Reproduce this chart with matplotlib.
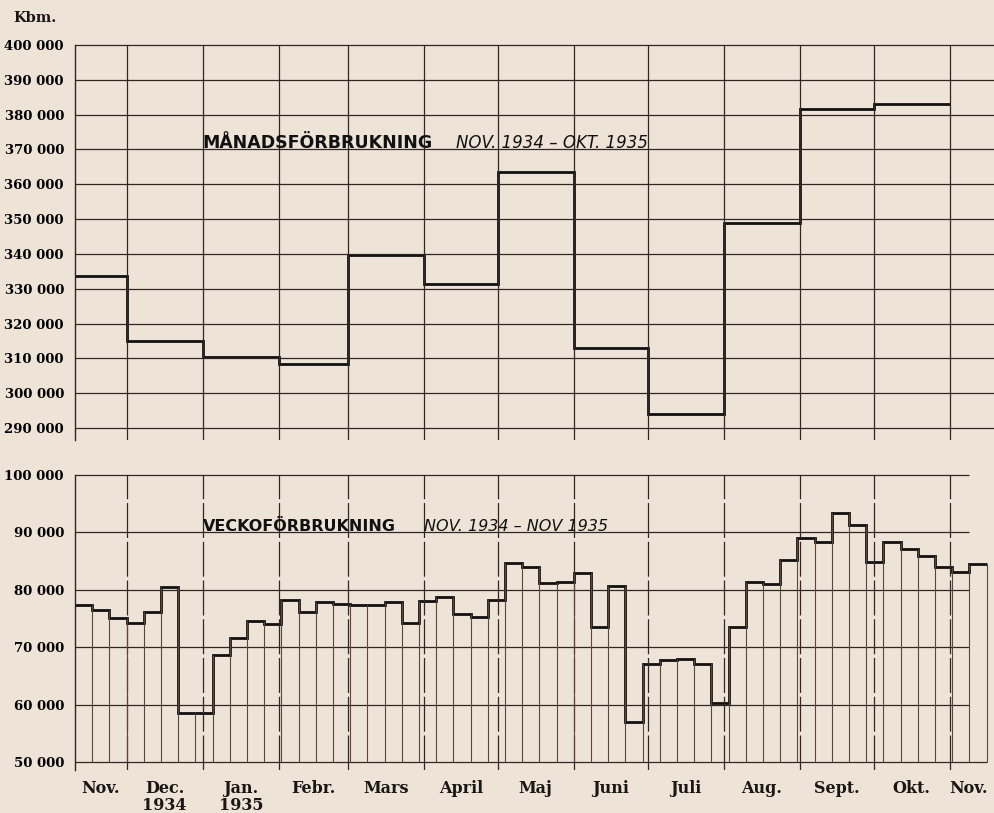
import matplotlib.pyplot as plt
import numpy as np

plt.rcParams.update({
    "font.family": "DejaVu Serif",
    "font.weight": "bold",
    "font.size": 9.5,
})

PAPER = "#ede3d7"
GRID = "#2e2724"
INK = "#111111"
DIVIDER = "#5e4636"

# first week of the series; x axis is days from here
START = np.datetime64("1934-11-10")

# month boundaries (Dec 1934 .. Nov 1935)
month_firsts = [
    "1934-12-01", "1935-01-01", "1935-02-01", "1935-03-01", "1935-04-01",
    "1935-05-01", "1935-06-01", "1935-07-01", "1935-08-01", "1935-09-01",
    "1935-10-01", "1935-11-01",
]

# monthly consumption, Nov 1934 - Okt 1935 (Kbm.)
monthly_values = [
    333600, 315100, 310300, 308500, 339700, 331300,
    363500, 313000, 294000, 349000, 381500, 383000,
]

# weekly consumption, Nov 1934 - Nov 1935 (Kbm.)
weekly_values = [
    77400, 76500, 75100, 74300, 76100, 80400, 58500, 58500, 68700, 71600,
    74500, 74100, 78300, 76200, 77900, 77600, 77400, 77300, 77900, 74200,
    78000, 78800, 75800, 75200, 78200, 84600, 83900, 81200, 81300, 83000,
    73500, 80600, 57000, 67000, 67800, 68000, 67000, 60200, 73600, 81300,
    81000, 85200, 89100, 88400, 93300, 91300, 84800, 88400, 87100, 85800,
    83900, 83100, 84500,
]

month_labels = [
    "Nov.", "Dec.\n1934", "Jan.\n1935", "Febr.", "Mars", "April", "Maj",
    "Juni", "Juli", "Aug.", "Sept.", "Okt.", "Nov.",
]

top_ticks = list(range(290000, 400001, 10000))
bottom_ticks = list(range(50000, 100001, 10000))


def days(d):
    return (np.asarray(d, dtype="datetime64[D]") - START).astype(float)


def fmt(v):
    return f"{v:,}".replace(",", " ")


month_x = days(month_firsts)
week_edges = 7.0 * np.arange(len(weekly_values) + 1)
month_edges = np.concatenate([[0.0], month_x])
label_edges = np.concatenate([[0.0], month_x, [week_edges[-1]]])
label_x = (label_edges[:-1] + label_edges[1:]) / 2
XMAX = 374.0

W, H = 994, 813
fig = plt.figure(figsize=(W / 100, H / 100), dpi=100, facecolor=PAPER)
ax1 = fig.add_axes([75 / W, 1 - 440 / H, (W - 75) / W, (440 - 45) / H])
ax2 = fig.add_axes([75 / W, 1 - 770 / H, (W - 75) / W, (770 - 475) / H])

for ax in (ax1, ax2):
    ax.set_facecolor(PAPER)
    for side in ("top", "right", "bottom"):
        ax.spines[side].set_visible(False)
    ax.spines["left"].set_color(GRID)
    ax.spines["left"].set_linewidth(1.0)
    ax.tick_params(axis="y", length=0, pad=8, labelsize=9.5)
    ax.tick_params(axis="x", length=0)
    ax.set_xticks([])
    ax.set_xlim(0, XMAX)

# ---- monthly panel
ax1.set_ylim(286550, 400000)
ax1.set_yticks(top_ticks)
ax1.set_yticklabels([fmt(v) for v in top_ticks])
ax1.hlines(top_ticks, 0, XMAX, color=GRID, lw=0.9, clip_on=False)
ax1.vlines(month_x, 286550, 400000, color=GRID, lw=0.9)
ax1.stairs(monthly_values, month_edges, baseline=None, color=INK, lw=2.0)
ax1.text(month_x[1], 370300, "MÅNADSFÖRBRUKNING", family="DejaVu Sans",
         weight="bold", fontsize=12.5, ha="left", va="baseline", color=INK)
ax1.text(month_x[7], 370300, "NOV. 1934 – OKT. 1935", family="DejaVu Sans",
         style="italic", weight="normal", fontsize=12, ha="right",
         va="baseline", color=INK)

# ---- weekly panel
ax2.set_ylim(48600, 100000)
ax2.set_yticks(bottom_ticks)
ax2.set_yticklabels([fmt(v) for v in bottom_ticks])
ax2.hlines(bottom_ticks[1:], 0, week_edges[-2], color=GRID, lw=0.9,
           clip_on=False)
ax2.hlines(50000, 0, week_edges[-1], color=GRID, lw=0.9)
ax2.vlines(month_x, 48600, 100000, color=GRID, lw=0.9,
           linestyles=(0, (28, 3)))
vals = np.array(weekly_values)
tops = np.concatenate([np.maximum(vals[:-1], vals[1:]), [vals[-1]]])
ax2.vlines(week_edges[1:], 50000, tops, color=DIVIDER, lw=0.8)
ax2.stairs(weekly_values, week_edges, baseline=None, color=INK, lw=2.0)
ax2.text(month_x[1], 90250, "VECKOFÖRBRUKNING", family="DejaVu Sans",
         weight="bold", fontsize=11.5, ha="left", va="baseline", color=INK)
ax2.text(month_x[4], 90250, "NOV. 1934 – NOV 1935", family="DejaVu Sans",
         style="italic", weight="normal", fontsize=11.5, ha="left",
         va="baseline", color=INK)

for x, lab in zip(label_x, month_labels):
    ax2.text(x, -0.035, lab, transform=ax2.get_xaxis_transform(),
             ha="center", va="top", fontsize=11.5, linespacing=0.95,
             color="#1a1614")

fig.text(13 / W, 1 - 18 / H, "Kbm.", ha="left", va="center", fontsize=10.5,
         color="#1a1614")

fig.savefig("out.png", dpi=100, facecolor=PAPER)
